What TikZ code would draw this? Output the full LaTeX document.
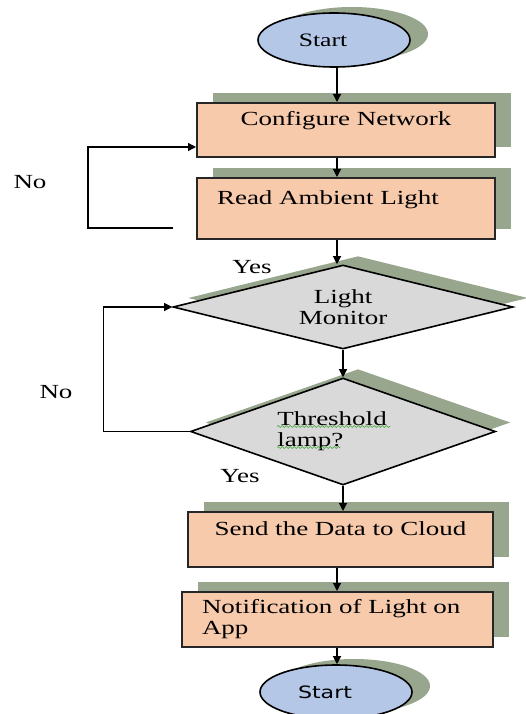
\documentclass[tikz,border=0pt]{standalone}
\usepackage{fontspec}
\setmainfont{Liberation Serif}[FakeStretch=1.35]
\newfontfamily\startfont{DejaVu Sans}[FakeStretch=1.3]
\usetikzlibrary{shapes.geometric,shadows,arrows.meta,decorations.pathmorphing}
\definecolor{peach}{HTML}{F7CAAC}
\definecolor{termblue}{HTML}{B4C7E7}
\definecolor{decgray}{HTML}{D9D9D9}
\definecolor{shadowgreen}{HTML}{97A68C}
\definecolor{spellgreen}{HTML}{3FA535}

\tikzset{
  txt/.style={font=\fontsize{20}{21}\selectfont},
  onetext/.style={text height=14pt, text depth=22pt},
  process/.style={txt, rectangle, draw=black!85, line width=2pt, fill=peach,
    inner xsep=20pt, inner ysep=0pt,
    drop shadow={shadow xshift=16pt, shadow yshift=10pt, fill=shadowgreen, opacity=1}},
  terminal/.style={ellipse, draw, line width=1.6pt, fill=termblue,
    minimum width=152pt, minimum height=54pt, inner sep=0pt,
    drop shadow={shadow xshift=18pt, shadow yshift=6pt, fill=shadowgreen, opacity=1}},
  decision/.style={txt, diamond, draw, line width=1.6pt, fill=decgray, inner sep=0pt,
    drop shadow={shadow xshift=15pt, shadow yshift=9pt, fill=shadowgreen, opacity=1}},
  flow/.style={-{Triangle[length=8pt,width=8pt]}, line width=1.2pt},
  spell/.style={spellgreen, line width=0.6pt, decorate,
    decoration={snake, amplitude=1pt, segment length=4pt}},
}

\begin{document}
\begin{tikzpicture}[x=1pt, y=-1pt]
\useasboundingbox (0,0) rectangle (525,714);

% terminals and steps
\node[terminal, font=\fontsize{19}{20}\selectfont] (start) at (334,40) {Start\hspace*{22pt}};
\node[process, onetext, minimum width=298pt, minimum height=54pt] (cfg) at (346,130) {Configure Network};
\node[process, onetext, minimum height=61pt, text width=258pt, align=left] (read) at (346,208.5) {Read Ambient Light};
\node[decision, shape aspect=4, minimum width=340pt, minimum height=84pt, align=center] (mon) at (343,307) {Light\\Monitor};
\node[decision, shape aspect=2.85, minimum width=305pt, minimum height=107pt, align=left] (thr) at (343,431.5)
  {Threshold\hspace*{22pt}\\lamp?};
\node[process, onetext, minimum width=305pt, minimum height=55pt] (send) at (340.5,539.5) {Send the Data to Cloud};
\node[process, minimum height=55pt, text width=271pt, align=left] (notif) at (337.5,619.5) {Notification of Light on\\App};
\node[terminal, font=\startfont\fontsize{17}{20}\selectfont] (stop) at (336,692) {Start\hspace*{22pt}};

% spell check marks
\draw[spell] ([shift={(-66,-5)}]thr.center) -- ++(113,0);
\draw[spell] ([shift={(-66,16)}]thr.center) -- ++(63,0);

% labels
\node[txt] (no1) at (30,182) {No};
\node[txt] (yes1) at (252,267) {Yes};
\node[txt] (no2) at (56,392) {No};
\node[txt] (yes2) at (240,476) {Yes};

% connectors
\coordinate (axis) at (337,0);
\coordinate (noA) at (173,228);
\draw[flow] (start.south -| axis) -- (cfg.north -| axis);
\draw[flow] (cfg.south -| axis) -- (read.north -| axis);
\draw[flow] (read.south -| axis) -- (mon.north -| axis);
\draw[flow] (mon.south) -- (thr.north);
\draw[flow] (thr.south) -- (send.north -| thr.south);
\draw[flow] (send.south -| axis) -- (notif.north -| axis);
\draw[flow] (notif.south -| axis) -- (stop.north -| axis);
\draw[flow] (noA) -- ++(-85,0) |- ([yshift=-17pt]cfg.west);
\draw[flow] (thr.west) -- ++(-86,0) |- (mon.west);
\end{tikzpicture}
\end{document}
